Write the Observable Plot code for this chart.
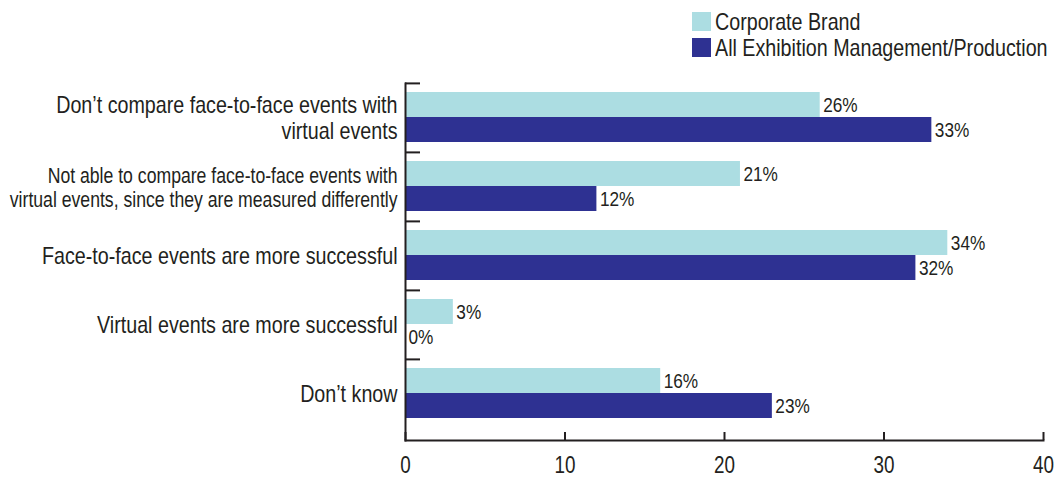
<!DOCTYPE html>
<html>
<head>
<meta charset="utf-8">
<script src="https://cdn.jsdelivr.net/npm/d3@7"></script>
<script src="https://cdn.jsdelivr.net/npm/@observablehq/plot@0.6"></script>
<style>
  body { margin: 0; background: #fff; }
  #legend { position: relative; height: 62px; font-family: "Liberation Sans", Arial, sans-serif; font-size: 24px; color: #231f20; }
  .row { position: absolute; left: 692px; display: flex; align-items: center; height: 19px; white-space: nowrap; }
  .sw { width: 19px; height: 19px; margin-right: 4px; flex: none; }
  .lt { display: inline-block; transform: scaleX(0.82); transform-origin: left center; }
</style>
</head>
<body>
<div id="legend"></div>
<div id="chart"></div>
<script>
const categories = [
  "Don’t compare face-to-face events with\nvirtual events",
  "Not able to compare face-to-face events with\nvirtual events, since they are measured differently",
  "Face-to-face events are more successful",
  "Virtual events are more successful",
  "Don’t know"
];
const seriesNames = ["Corporate Brand", "All Exhibition Management/Production"];
const corporateBrand = [26, 21, 34, 3, 16];
const allExhibition = [33, 12, 32, 0, 23];
const xTicks = [0, 10, 20, 30, 40];
const colors = ["#acdde2", "#2e3192"];

const corpRows = categories.map((c, i) => ({category: c, series: seriesNames[0], value: corporateBrand[i]}));
const allRows = categories.map((c, i) => ({category: c, series: seriesNames[1], value: allExhibition[i]}));

// legend
const legend = document.getElementById("legend");
seriesNames.forEach((s, i) => {
  const row = document.createElement("div");
  row.className = "row";
  row.style.top = (12 + i * 26) + "px";
  const sw = document.createElement("span");
  sw.className = "sw";
  sw.style.background = colors[i];
  const t = document.createElement("span");
  t.className = "lt";
  t.textContent = s;
  row.appendChild(sw); row.appendChild(t);
  legend.appendChild(row);
});

const font = '"Liberation Sans", Arial, sans-serif';
const ink = "#231f20";

const chart = Plot.plot({
  width: 1055,
  height: 415,
  marginTop: 21,
  marginBottom: 37,
  marginLeft: 405,
  marginRight: 12,
  style: {fontFamily: font, color: ink, background: "#fff"},
  x: {domain: [0, 40]},
  y: {domain: categories, paddingInner: 0, paddingOuter: 0.08, align: 0},
  marks: [
    Plot.barX(corpRows, {x: "value", y: "category", fill: colors[0], insetTop: 9, insetBottom: 35}),
    Plot.barX(allRows, {x: "value", y: "category", fill: colors[1], insetTop: 34, insetBottom: 10}),
    Plot.text(corpRows, {x: "value", y: "category", text: d => d.value + "%", dx: 3, dy: -13, textAnchor: "start", fontSize: 21, fill: ink}),
    Plot.text(allRows, {x: "value", y: "category", text: d => d.value + "%", dx: 3, dy: 12, textAnchor: "start", fontSize: 21, fill: ink}),
    Plot.frame({anchor: "left", stroke: ink, strokeWidth: 2}),
    Plot.frame({anchor: "bottom", stroke: ink, strokeWidth: 2}),
    Plot.axisY(categories, {tickSize: -15, dy: -34.6, tickFormat: () => "", label: null, stroke: ink, strokeWidth: 2}),
    Plot.axisY(categories.filter((c, i) => i !== 1), {tickSize: 0, tickPadding: 8, fontSize: 24, lineHeight: 1.05, label: null}),
    Plot.axisY([categories[1]], {tickSize: 0, tickPadding: 8, fontSize: 21.5, lineHeight: 1.15, label: null}),
    Plot.axisX(xTicks, {tickSize: -8, tickPadding: 24, fontSize: 23, label: null, stroke: ink, strokeWidth: 2})
  ]
});
document.getElementById("chart").appendChild(chart);

// condensed look: squeeze glyphs horizontally (text stays real text)
const squeeze = 0.82;
chart.querySelectorAll("text").forEach(t => {
  const spans = t.querySelectorAll("tspan");
  const targets = spans.length ? Array.from(spans) : [t];
  targets.forEach(el => {
    const L = el.getComputedTextLength();
    if (L > 0) {
      el.setAttribute("textLength", (L * squeeze).toFixed(2));
      el.setAttribute("lengthAdjust", "spacingAndGlyphs");
    }
  });
});
</script>
</body>
</html>
